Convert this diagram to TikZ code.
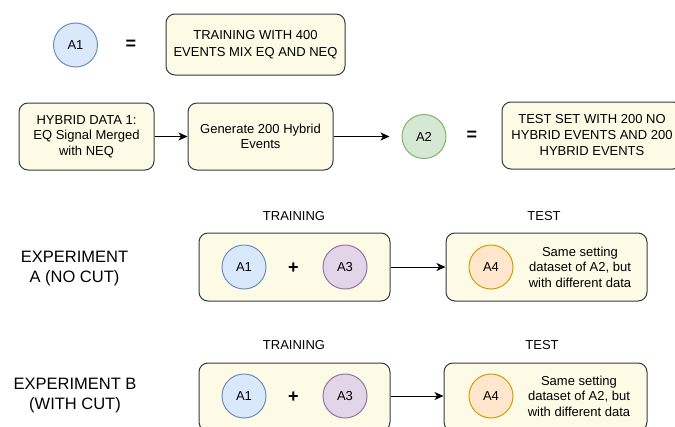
\documentclass[tikz,border=0pt]{standalone}
\usepackage{fontspec}
\setmainfont{Liberation Sans}
\usetikzlibrary{arrows.meta}
\definecolor{boxfill}{HTML}{FDFBE6}
\definecolor{boxline}{HTML}{36393D}
\definecolor{bluefill}{HTML}{DAE8FC}
\definecolor{blueline}{HTML}{6C8EBF}
\definecolor{greenfill}{HTML}{D5E8D4}
\definecolor{greenline}{HTML}{82B366}
\definecolor{purplefill}{HTML}{E1D5E7}
\definecolor{purpleline}{HTML}{9673A6}
\definecolor{orangefill}{HTML}{FFE6CC}
\definecolor{orangeline}{HTML}{D79B00}
\tikzset{
  txt/.style={font=\fontsize{13}{15.5}\selectfont, align=center, inner sep=0pt},
  card/.style={draw=boxline, fill=boxfill, line width=1pt, rounded corners=9pt,
    inner sep=0pt, txt},
  dot/.style={circle, minimum size=44pt, inner sep=0pt, line width=1pt,
    font=\fontsize{13}{15}\selectfont},
  setA1/.style={dot, draw=blueline, fill=bluefill},
  setA2/.style={dot, draw=greenline, fill=greenfill},
  setA3/.style={dot, draw=purpleline, fill=purplefill},
  setA4/.style={dot, draw=orangeline, fill=orangefill},
  sym/.style={font=\fontsize{18}{18}\selectfont\bfseries, inner sep=0pt},
  heading/.style={font=\fontsize{16.5}{20}\selectfont, align=center, inner sep=0pt},
  flow/.style={line width=1pt, -{Stealth[length=9pt,width=8pt,inset=2.5pt]}}
}
\begin{document}
\begin{tikzpicture}[x=1pt, y=-1pt]
\useasboundingbox (0,0) rectangle (675,426);
\clip (0,0) rectangle (675,426);

% legend: A1
\node[setA1] (a1def) at (75.5,45) {A1};
\node[sym] (eq1) at (131,45) {=};
\node[card, minimum width=179pt, minimum height=61pt,
  font=\fontsize{13}{17}\selectfont] (train) at (255.5,44.5)
  {TRAINING WITH 400\\EVENTS MIX EQ AND NEQ};

% hybrid data pipeline and A2
\node[card, minimum width=135pt, minimum height=67pt] (hyb) at (86.5,136.5)
  {HYBRID DATA 1:\\EQ Signal Merged\\with NEQ};
\node[card, minimum width=145pt, minimum height=67pt] (gen) at (260.5,136.5)
  {Generate 200 Hybrid\\Events};
\node[setA2] (a2def) at (424,136.5) {A2};
\node[sym] (eq2) at (472,136) {=};
\node[card, minimum width=180pt, minimum height=67pt,
  font=\fontsize{13}{16}\selectfont] (testset) at (592,135.5)
  {TEST SET WITH 200 NO\\HYBRID EVENTS AND 200\\HYBRID EVENTS};
\draw[flow] (hyb) -- (gen);
\draw[flow, shorten >=12pt] (gen.east) -- (a2def.west);

% experiment A
\node[heading] (expA) at (74.5,268.5) {EXPERIMENT\\A (NO CUT)};
\node[txt] (trlabA) at (294,216) {TRAINING};
\node[txt] (telabA) at (544,216) {TEST};
\node[card, minimum width=191pt, minimum height=68pt] (trA) at (294.5,267) {};
\node[setA1] (a1A) at (244,267) {A1};
\node[sym] (plusA) at (293.5,268) {+};
\node[setA3] (a3A) at (345,267) {A3};
\node[card, minimum width=201pt, minimum height=68pt] (teA) at (546.5,267) {};
\node[setA4] (a4A) at (491,267) {A4};
\node[txt] (noteA) at (580,267) {Same setting\\dataset of A2, but\\with different data};
\draw[flow] (trA) -- (teA);

% experiment B
\node[heading] (expB) at (75,396) {EXPERIMENT B\\(WITH CUT)};
\node[txt] (trlabB) at (294,345) {TRAINING};
\node[txt] (telabB) at (542,345) {TEST};
\node[card, minimum width=191pt, minimum height=68pt] (trB) at (294.5,397) {};
\node[setA1] (a1B) at (244,396) {A1};
\node[sym] (plusB) at (293.5,397) {+};
\node[setA3] (a3B) at (345,396) {A3};
\node[card, minimum width=203pt, minimum height=68pt] (teB) at (545.5,397) {};
\node[setA4] (a4B) at (491,396) {A4};
\node[txt] (noteB) at (579,396) {Same setting\\dataset of A2, but\\with different data};
\draw[flow] (trB.east |- a3B) -- (teB.west |- a3B);
\end{tikzpicture}
\end{document}
